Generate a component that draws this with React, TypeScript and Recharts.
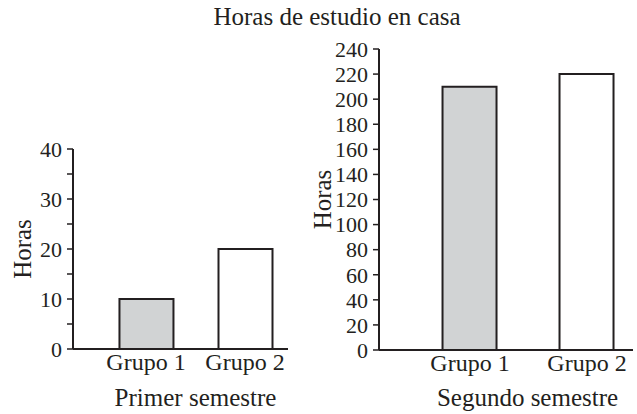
import React from 'react';
import { BarChart, Bar, XAxis, YAxis, Cell } from 'recharts';

// data
const groups = ['Grupo 1', 'Grupo 2'];
const firstSemester = [10, 20];
const secondSemester = [210, 220];
const firstTicks = [0, 5, 10, 15, 20, 25, 30, 35, 40];
const secondTicks = [0, 20, 40, 60, 80, 100, 120, 140, 160, 180, 200, 220, 240];
const barFills = ['#d1d3d4', '#ffffff'];

const INK = '#231f20';
const FONT = '"Liberation Serif", "Times New Roman", serif';

const toRows = (values: number[]) =>
  values.map((v, i) => ({ pos: i + 1, group: groups[i], hours: v }));

interface PanelProps {
  values: number[];
  ticks: number[];
  yMax: number;
  xDomain: [number, number];
  title: string;
  titleDx: number;
  labelEvery: number;
  width: number;
  yAxisWidth: number;
  marginRight: number;
  marginTop: number;
  marginBottom: number;
  horasDx: number;
}

function Panel(p: PanelProps) {
  const rows = toRows(p.values);
  return (
    <BarChart
      width={p.width}
      height={414}
      data={rows}
      margin={{ top: p.marginTop, right: p.marginRight, bottom: 0, left: 0 }}
      style={{ fontFamily: FONT }}
    >
      <XAxis
        type="number"
        dataKey="pos"
        domain={p.xDomain}
        allowDataOverflow
        ticks={[1, 2]}
        tickFormatter={(v: number) => groups[v - 1] ?? ''}
        tickLine={false}
        tickSize={0}
        tickMargin={4}
        height={p.marginBottom}
        axisLine={{ stroke: INK, strokeWidth: 2 }}
        tick={{ fill: INK, fontSize: 24, fontFamily: FONT }}
        label={{
          value: p.title,
          position: 'insideBottom',
          offset: 8,
          dx: p.titleDx,
          fill: INK,
          fontSize: 25,
          fontFamily: FONT,
        }}
      />
      <YAxis
        type="number"
        domain={[0, p.yMax]}
        ticks={p.ticks}
        interval={0}
        width={p.yAxisWidth}
        tickSize={6}
        tickMargin={5}
        tickFormatter={(v: number) => (v % p.labelEvery === 0 ? String(v) : '')}
        axisLine={{ stroke: INK, strokeWidth: 2 }}
        tickLine={{ stroke: INK, strokeWidth: 1.5 }}
        tick={{ fill: INK, fontSize: 22, fontFamily: FONT }}
        label={{
          value: 'Horas',
          angle: -90,
          position: 'center',
          dx: p.horasDx,
          fill: INK,
          fontSize: 25,
          fontFamily: FONT,
        }}
      />
      <Bar dataKey="hours" barSize={54} stroke={INK} strokeWidth={2} isAnimationActive={false}>
        {rows.map((r, i) => (
          <Cell key={r.group} fill={barFills[i]} />
        ))}
      </Bar>
    </BarChart>
  );
}

export default function App() {
  return (
    <div
      style={{
        position: 'absolute',
        left: 0,
        top: 0,
        width: 637,
        height: 414,
        background: '#fff',
        fontFamily: FONT,
      }}
    >
      <div
        style={{
          position: 'absolute',
          left: 337,
          top: 4,
          transform: 'translateX(-50%)',
          whiteSpace: 'nowrap',
          fontSize: 25,
          lineHeight: '25px',
          color: INK,
        }}
      >
        Horas de estudio en casa
      </div>
      <div style={{ position: 'absolute', left: 0, top: 0 }}>
        <Panel
          values={firstSemester}
          ticks={firstTicks}
          yMax={40}
          xDomain={[0.263, 2.434]}
          title="Primer semestre"
          titleDx={15}
          labelEvery={10}
          width={300}
          yAxisWidth={73}
          marginRight={12}
          marginTop={149}
          marginBottom={65}
          horasDx={-14.5}
        />
      </div>
      <div style={{ position: 'absolute', left: 300, top: 0 }}>
        <Panel
          values={secondSemester}
          ticks={secondTicks}
          yMax={240}
          xDomain={[0.222, 2.393]}
          title="Segundo semestre"
          titleDx={21.5}
          labelEvery={20}
          width={337}
          yAxisWidth={79}
          marginRight={4}
          marginTop={49}
          marginBottom={64}
          horasDx={-17.5}
        />
      </div>
    </div>
  );
}
